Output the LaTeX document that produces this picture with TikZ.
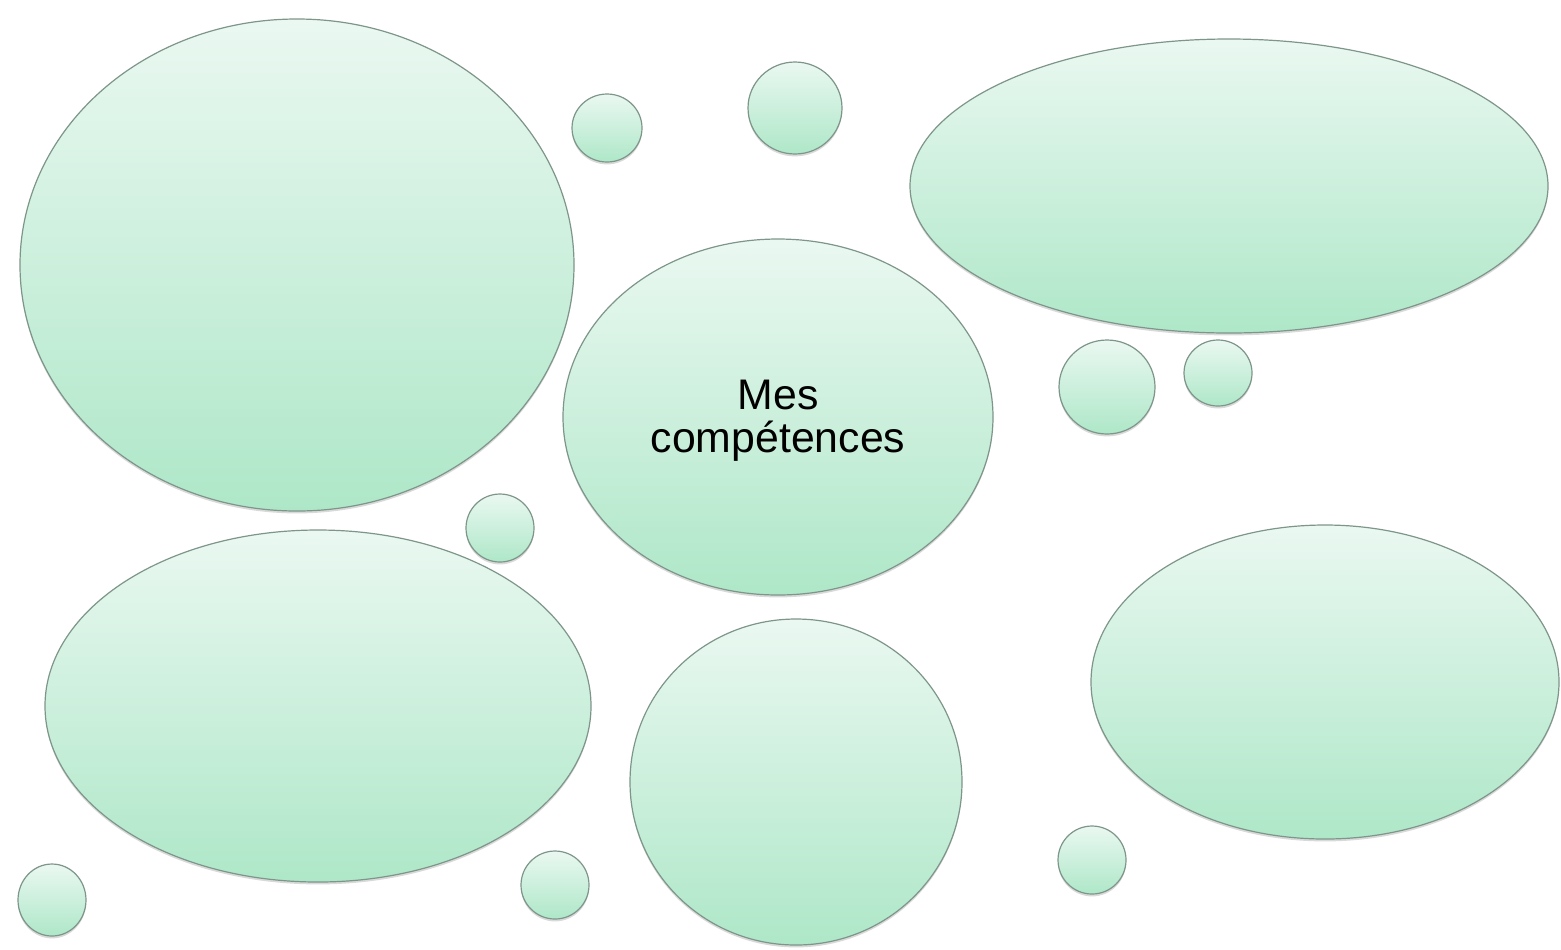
\documentclass[tikz,border=0pt]{standalone}
\usepackage{fontspec}
\setmainfont{Liberation Sans}
\usetikzlibrary{shapes.geometric,shadows}
\definecolor{bubtop}{HTML}{EAF8F1}
\definecolor{bubbot}{HTML}{AEE7C8}
\definecolor{bubline}{HTML}{7E958A}
\tikzset{
  bubble/.style={ellipse, inner sep=0pt, draw=bubline, line width=0.6pt,
    top color=bubtop, bottom color=bubbot,
    drop shadow={shadow xshift=0pt, shadow yshift=-1.2pt, opacity=0.25, fill=black!60}},
  bubtext/.style={align=center, inner sep=0pt, font=\fontsize{21.4pt}{21.6pt}\selectfont},
}
\begin{document}
\begin{tikzpicture}[x=0.5pt,y=-0.5pt]
\useasboundingbox (0,0) rectangle (1561,949);
\node[bubble, minimum width=277pt, minimum height=246pt] (a) at (297,265) {};
\node[bubble, minimum width=35pt, minimum height=34pt] (b) at (607,128) {};
\node[bubble, minimum width=47pt, minimum height=46pt] (c) at (795,108) {};
\node[bubble, minimum width=319pt, minimum height=147pt] (d) at (1229,186) {};
\node[bubble, minimum width=215pt, minimum height=178pt] (e) at (778,417) {};
\node[bubtext] (et) at (778,421) {Mes\\comp\'etences};
\node[bubble, minimum width=48pt, minimum height=47pt] (f) at (1107,387) {};
\node[bubble, minimum width=34pt, minimum height=33pt] (g) at (1218,373) {};
\node[bubble, minimum width=34pt, minimum height=34pt] (h) at (500,528) {};
\node[bubble, minimum width=273pt, minimum height=176pt] (i) at (318,706) {};
\node[bubble, minimum width=166pt, minimum height=163pt] (j) at (796,782) {};
\node[bubble, minimum width=234pt, minimum height=157pt] (k) at (1325,682) {};
\node[bubble, minimum width=34pt, minimum height=34pt] (l) at (1092,860) {};
\node[bubble, minimum width=34pt, minimum height=34pt] (m) at (555,885) {};
\node[bubble, minimum width=34pt, minimum height=36pt] (n) at (52,900) {};
\end{tikzpicture}
\end{document}
